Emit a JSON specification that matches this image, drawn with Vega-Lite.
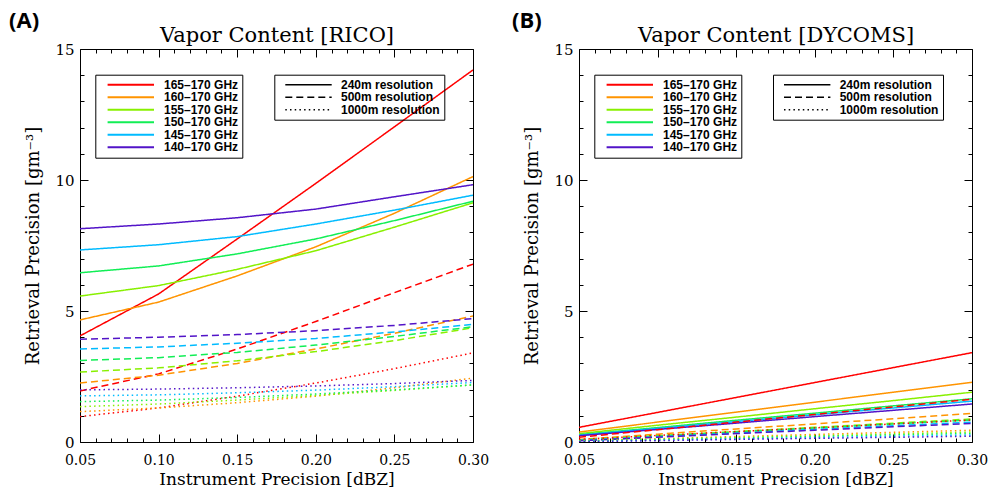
{
  "$schema": "https://vega.github.io/schema/vega-lite/v6.json",
  "background": "white",
  "padding": {"left": 8, "top": 9, "right": 0, "bottom": 0},
  "datasets": {
    "d": [
      {"p":"A","f":"165","r":"240","x":0.05,"y":4.05},{"p":"A","f":"165","r":"240","x":0.10,"y":5.65},{"p":"A","f":"165","r":"240","x":0.15,"y":7.75},{"p":"A","f":"165","r":"240","x":0.20,"y":9.87},{"p":"A","f":"165","r":"240","x":0.25,"y":12.03},{"p":"A","f":"165","r":"240","x":0.30,"y":14.2},
      {"p":"A","f":"160","r":"240","x":0.05,"y":4.66},{"p":"A","f":"160","r":"240","x":0.10,"y":5.34},{"p":"A","f":"160","r":"240","x":0.15,"y":6.34},{"p":"A","f":"160","r":"240","x":0.20,"y":7.45},{"p":"A","f":"160","r":"240","x":0.25,"y":8.73},{"p":"A","f":"160","r":"240","x":0.30,"y":10.13},
      {"p":"A","f":"155","r":"240","x":0.05,"y":5.57},{"p":"A","f":"155","r":"240","x":0.10,"y":5.97},{"p":"A","f":"155","r":"240","x":0.15,"y":6.59},{"p":"A","f":"155","r":"240","x":0.20,"y":7.3},{"p":"A","f":"155","r":"240","x":0.25,"y":8.2},{"p":"A","f":"155","r":"240","x":0.30,"y":9.13},
      {"p":"A","f":"150","r":"240","x":0.05,"y":6.46},{"p":"A","f":"150","r":"240","x":0.10,"y":6.72},{"p":"A","f":"150","r":"240","x":0.15,"y":7.18},{"p":"A","f":"150","r":"240","x":0.20,"y":7.75},{"p":"A","f":"150","r":"240","x":0.25,"y":8.45},{"p":"A","f":"150","r":"240","x":0.30,"y":9.19},
      {"p":"A","f":"145","r":"240","x":0.05,"y":7.33},{"p":"A","f":"145","r":"240","x":0.10,"y":7.53},{"p":"A","f":"145","r":"240","x":0.15,"y":7.84},{"p":"A","f":"145","r":"240","x":0.20,"y":8.32},{"p":"A","f":"145","r":"240","x":0.25,"y":8.85},{"p":"A","f":"145","r":"240","x":0.30,"y":9.42},
      {"p":"A","f":"140","r":"240","x":0.05,"y":8.14},{"p":"A","f":"140","r":"240","x":0.10,"y":8.32},{"p":"A","f":"140","r":"240","x":0.15,"y":8.56},{"p":"A","f":"140","r":"240","x":0.20,"y":8.89},{"p":"A","f":"140","r":"240","x":0.25,"y":9.36},{"p":"A","f":"140","r":"240","x":0.30,"y":9.82},
      {"p":"A","f":"165","r":"500","x":0.05,"y":1.95},{"p":"A","f":"165","r":"500","x":0.10,"y":2.6},{"p":"A","f":"165","r":"500","x":0.15,"y":3.55},{"p":"A","f":"165","r":"500","x":0.20,"y":4.6},{"p":"A","f":"165","r":"500","x":0.25,"y":5.7},{"p":"A","f":"165","r":"500","x":0.30,"y":6.79},
      {"p":"A","f":"160","r":"500","x":0.05,"y":2.25},{"p":"A","f":"160","r":"500","x":0.10,"y":2.55},{"p":"A","f":"160","r":"500","x":0.15,"y":3.0},{"p":"A","f":"160","r":"500","x":0.20,"y":3.55},{"p":"A","f":"160","r":"500","x":0.25,"y":4.15},{"p":"A","f":"160","r":"500","x":0.30,"y":4.81},
      {"p":"A","f":"155","r":"500","x":0.05,"y":2.67},{"p":"A","f":"155","r":"500","x":0.10,"y":2.83},{"p":"A","f":"155","r":"500","x":0.15,"y":3.1},{"p":"A","f":"155","r":"500","x":0.20,"y":3.45},{"p":"A","f":"155","r":"500","x":0.25,"y":3.87},{"p":"A","f":"155","r":"500","x":0.30,"y":4.36},
      {"p":"A","f":"150","r":"500","x":0.05,"y":3.11},{"p":"A","f":"150","r":"500","x":0.10,"y":3.22},{"p":"A","f":"150","r":"500","x":0.15,"y":3.42},{"p":"A","f":"150","r":"500","x":0.20,"y":3.7},{"p":"A","f":"150","r":"500","x":0.25,"y":4.03},{"p":"A","f":"150","r":"500","x":0.30,"y":4.4},
      {"p":"A","f":"145","r":"500","x":0.05,"y":3.55},{"p":"A","f":"145","r":"500","x":0.10,"y":3.63},{"p":"A","f":"145","r":"500","x":0.15,"y":3.77},{"p":"A","f":"145","r":"500","x":0.20,"y":3.95},{"p":"A","f":"145","r":"500","x":0.25,"y":4.2},{"p":"A","f":"145","r":"500","x":0.30,"y":4.49},
      {"p":"A","f":"140","r":"500","x":0.05,"y":3.92},{"p":"A","f":"140","r":"500","x":0.10,"y":4.0},{"p":"A","f":"140","r":"500","x":0.15,"y":4.1},{"p":"A","f":"140","r":"500","x":0.20,"y":4.25},{"p":"A","f":"140","r":"500","x":0.25,"y":4.45},{"p":"A","f":"140","r":"500","x":0.30,"y":4.71},
      {"p":"A","f":"165","r":"1000","x":0.05,"y":0.97},{"p":"A","f":"165","r":"1000","x":0.10,"y":1.3},{"p":"A","f":"165","r":"1000","x":0.15,"y":1.75},{"p":"A","f":"165","r":"1000","x":0.20,"y":2.25},{"p":"A","f":"165","r":"1000","x":0.25,"y":2.8},{"p":"A","f":"165","r":"1000","x":0.30,"y":3.4},
      {"p":"A","f":"160","r":"1000","x":0.05,"y":1.16},{"p":"A","f":"160","r":"1000","x":0.10,"y":1.3},{"p":"A","f":"160","r":"1000","x":0.15,"y":1.5},{"p":"A","f":"160","r":"1000","x":0.20,"y":1.75},{"p":"A","f":"160","r":"1000","x":0.25,"y":2.07},{"p":"A","f":"160","r":"1000","x":0.30,"y":2.44},
      {"p":"A","f":"155","r":"1000","x":0.05,"y":1.35},{"p":"A","f":"155","r":"1000","x":0.10,"y":1.45},{"p":"A","f":"155","r":"1000","x":0.15,"y":1.6},{"p":"A","f":"155","r":"1000","x":0.20,"y":1.78},{"p":"A","f":"155","r":"1000","x":0.25,"y":1.97},{"p":"A","f":"155","r":"1000","x":0.30,"y":2.18},
      {"p":"A","f":"150","r":"1000","x":0.05,"y":1.54},{"p":"A","f":"150","r":"1000","x":0.10,"y":1.6},{"p":"A","f":"150","r":"1000","x":0.15,"y":1.7},{"p":"A","f":"150","r":"1000","x":0.20,"y":1.83},{"p":"A","f":"150","r":"1000","x":0.25,"y":1.99},{"p":"A","f":"150","r":"1000","x":0.30,"y":2.18},
      {"p":"A","f":"145","r":"1000","x":0.05,"y":1.76},{"p":"A","f":"145","r":"1000","x":0.10,"y":1.8},{"p":"A","f":"145","r":"1000","x":0.15,"y":1.88},{"p":"A","f":"145","r":"1000","x":0.20,"y":1.98},{"p":"A","f":"145","r":"1000","x":0.25,"y":2.11},{"p":"A","f":"145","r":"1000","x":0.30,"y":2.27},
      {"p":"A","f":"140","r":"1000","x":0.05,"y":1.99},{"p":"A","f":"140","r":"1000","x":0.10,"y":2.02},{"p":"A","f":"140","r":"1000","x":0.15,"y":2.07},{"p":"A","f":"140","r":"1000","x":0.20,"y":2.14},{"p":"A","f":"140","r":"1000","x":0.25,"y":2.23},{"p":"A","f":"140","r":"1000","x":0.30,"y":2.35},
      {"p":"B","f":"165","r":"240","x":0.05,"y":0.56},{"p":"B","f":"165","r":"240","x":0.10,"y":1.13},{"p":"B","f":"165","r":"240","x":0.15,"y":1.7},{"p":"B","f":"165","r":"240","x":0.20,"y":2.27},{"p":"B","f":"165","r":"240","x":0.25,"y":2.84},{"p":"B","f":"165","r":"240","x":0.30,"y":3.41},
      {"p":"B","f":"160","r":"240","x":0.05,"y":0.38},{"p":"B","f":"160","r":"240","x":0.10,"y":0.76},{"p":"B","f":"160","r":"240","x":0.15,"y":1.14},{"p":"B","f":"160","r":"240","x":0.20,"y":1.52},{"p":"B","f":"160","r":"240","x":0.25,"y":1.9},{"p":"B","f":"160","r":"240","x":0.30,"y":2.28},
      {"p":"B","f":"155","r":"240","x":0.05,"y":0.32},{"p":"B","f":"155","r":"240","x":0.10,"y":0.64},{"p":"B","f":"155","r":"240","x":0.15,"y":0.95},{"p":"B","f":"155","r":"240","x":0.20,"y":1.27},{"p":"B","f":"155","r":"240","x":0.25,"y":1.58},{"p":"B","f":"155","r":"240","x":0.30,"y":1.9},
      {"p":"B","f":"150","r":"240","x":0.05,"y":0.28},{"p":"B","f":"150","r":"240","x":0.10,"y":0.55},{"p":"B","f":"150","r":"240","x":0.15,"y":0.83},{"p":"B","f":"150","r":"240","x":0.20,"y":1.1},{"p":"B","f":"150","r":"240","x":0.25,"y":1.38},{"p":"B","f":"150","r":"240","x":0.30,"y":1.65},
      {"p":"B","f":"145","r":"240","x":0.05,"y":0.26},{"p":"B","f":"145","r":"240","x":0.10,"y":0.52},{"p":"B","f":"145","r":"240","x":0.15,"y":0.78},{"p":"B","f":"145","r":"240","x":0.20,"y":1.04},{"p":"B","f":"145","r":"240","x":0.25,"y":1.3},{"p":"B","f":"145","r":"240","x":0.30,"y":1.56},
      {"p":"B","f":"140","r":"240","x":0.05,"y":0.24},{"p":"B","f":"140","r":"240","x":0.10,"y":0.48},{"p":"B","f":"140","r":"240","x":0.15,"y":0.72},{"p":"B","f":"140","r":"240","x":0.20,"y":0.97},{"p":"B","f":"140","r":"240","x":0.25,"y":1.21},{"p":"B","f":"140","r":"240","x":0.30,"y":1.45},
      {"p":"B","f":"165","r":"500","x":0.05,"y":0.18},{"p":"B","f":"165","r":"500","x":0.10,"y":0.47},{"p":"B","f":"165","r":"500","x":0.15,"y":0.76},{"p":"B","f":"165","r":"500","x":0.20,"y":1.05},{"p":"B","f":"165","r":"500","x":0.25,"y":1.34},{"p":"B","f":"165","r":"500","x":0.30,"y":1.63},
      {"p":"B","f":"160","r":"500","x":0.05,"y":0.1},{"p":"B","f":"160","r":"500","x":0.10,"y":0.3},{"p":"B","f":"160","r":"500","x":0.15,"y":0.5},{"p":"B","f":"160","r":"500","x":0.20,"y":0.69},{"p":"B","f":"160","r":"500","x":0.25,"y":0.89},{"p":"B","f":"160","r":"500","x":0.30,"y":1.09},
      {"p":"B","f":"155","r":"500","x":0.05,"y":0.08},{"p":"B","f":"155","r":"500","x":0.10,"y":0.24},{"p":"B","f":"155","r":"500","x":0.15,"y":0.4},{"p":"B","f":"155","r":"500","x":0.20,"y":0.56},{"p":"B","f":"155","r":"500","x":0.25,"y":0.72},{"p":"B","f":"155","r":"500","x":0.30,"y":0.88},
      {"p":"B","f":"150","r":"500","x":0.05,"y":0.07},{"p":"B","f":"150","r":"500","x":0.10,"y":0.22},{"p":"B","f":"150","r":"500","x":0.15,"y":0.38},{"p":"B","f":"150","r":"500","x":0.20,"y":0.53},{"p":"B","f":"150","r":"500","x":0.25,"y":0.69},{"p":"B","f":"150","r":"500","x":0.30,"y":0.84},
      {"p":"B","f":"145","r":"500","x":0.05,"y":0.06},{"p":"B","f":"145","r":"500","x":0.10,"y":0.2},{"p":"B","f":"145","r":"500","x":0.15,"y":0.34},{"p":"B","f":"145","r":"500","x":0.20,"y":0.48},{"p":"B","f":"145","r":"500","x":0.25,"y":0.62},{"p":"B","f":"145","r":"500","x":0.30,"y":0.76},
      {"p":"B","f":"140","r":"500","x":0.05,"y":0.05},{"p":"B","f":"140","r":"500","x":0.10,"y":0.18},{"p":"B","f":"140","r":"500","x":0.15,"y":0.32},{"p":"B","f":"140","r":"500","x":0.20,"y":0.45},{"p":"B","f":"140","r":"500","x":0.25,"y":0.58},{"p":"B","f":"140","r":"500","x":0.30,"y":0.71},
      {"p":"B","f":"165","r":"1000","x":0.05,"y":0.1},{"p":"B","f":"165","r":"1000","x":0.10,"y":0.25},{"p":"B","f":"165","r":"1000","x":0.15,"y":0.4},{"p":"B","f":"165","r":"1000","x":0.20,"y":0.54},{"p":"B","f":"165","r":"1000","x":0.25,"y":0.69},{"p":"B","f":"165","r":"1000","x":0.30,"y":0.84},
      {"p":"B","f":"160","r":"1000","x":0.05,"y":0.05},{"p":"B","f":"160","r":"1000","x":0.10,"y":0.13},{"p":"B","f":"160","r":"1000","x":0.15,"y":0.21},{"p":"B","f":"160","r":"1000","x":0.20,"y":0.29},{"p":"B","f":"160","r":"1000","x":0.25,"y":0.37},{"p":"B","f":"160","r":"1000","x":0.30,"y":0.45},
      {"p":"B","f":"155","r":"1000","x":0.05,"y":0.04},{"p":"B","f":"155","r":"1000","x":0.10,"y":0.11},{"p":"B","f":"155","r":"1000","x":0.15,"y":0.18},{"p":"B","f":"155","r":"1000","x":0.20,"y":0.24},{"p":"B","f":"155","r":"1000","x":0.25,"y":0.31},{"p":"B","f":"155","r":"1000","x":0.30,"y":0.38},
      {"p":"B","f":"150","r":"1000","x":0.05,"y":0.03},{"p":"B","f":"150","r":"1000","x":0.10,"y":0.09},{"p":"B","f":"150","r":"1000","x":0.15,"y":0.15},{"p":"B","f":"150","r":"1000","x":0.20,"y":0.21},{"p":"B","f":"150","r":"1000","x":0.25,"y":0.27},{"p":"B","f":"150","r":"1000","x":0.30,"y":0.33},
      {"p":"B","f":"145","r":"1000","x":0.05,"y":0.02},{"p":"B","f":"145","r":"1000","x":0.10,"y":0.07},{"p":"B","f":"145","r":"1000","x":0.15,"y":0.12},{"p":"B","f":"145","r":"1000","x":0.20,"y":0.17},{"p":"B","f":"145","r":"1000","x":0.25,"y":0.22},{"p":"B","f":"145","r":"1000","x":0.30,"y":0.27},
      {"p":"B","f":"140","r":"1000","x":0.05,"y":0.01},{"p":"B","f":"140","r":"1000","x":0.10,"y":0.05},{"p":"B","f":"140","r":"1000","x":0.15,"y":0.1},{"p":"B","f":"140","r":"1000","x":0.20,"y":0.14},{"p":"B","f":"140","r":"1000","x":0.25,"y":0.18},{"p":"B","f":"140","r":"1000","x":0.30,"y":0.22}
    ]
  },
  "spacing": 21,
  "hconcat": [
    {
      "width": 393, "height": 393,
      "data": {"name": "d"},
      "transform": [{"filter": "datum.p == 'A'"}],
      "title": {"text": "(A)", "anchor": "start", "frame": "group", "dx": -71, "offset": -8, "font": "Open Sans", "fontWeight": "bold", "fontSize": 22, "color": "black"},
      "layer": [
        {
          "mark": {"type": "line", "strokeWidth": 1.5, "clip": true},
          "encoding": {
            "x": {"field": "x", "type": "quantitative", "scale": {"domain": [0.05, 0.3], "nice": false, "zero": false},
              "axis": {"orient": "bottom", "offset": -8, "tickSize": 8, "values": [0.05,0.10,0.15,0.20,0.25,0.30], "format": ".2f",
                "labelPadding": 11, "labelFontSize": 14, "title": "Instrument Precision [dBZ]", "titleFontSize": 17, "titlePadding": 4}},
            "y": {"field": "y", "type": "quantitative", "scale": {"domain": [0, 15], "nice": false, "zero": false},
              "axis": {"orient": "left", "offset": -8, "tickSize": 8, "values": [0,5,10,15],
                "labelPadding": 6, "title": "Retrieval Precision [gm⁻³]", "titlePadding": 12}},
            "color": {"field": "f", "type": "nominal",
              "scale": {"domain": ["165","160","155","150","145","140"], "range": ["#ff0000","#ff9400","#88f000","#11ee55","#00bbff","#5214c8"]},
              "legend": {"orient": "none", "legendX": 15.3, "legendY": 25.7, "title": null, "labelExpr": "datum.label + '–170 GHz'",
                "symbolType": "M-4.64,0H4.64", "symbolSize": 100, "symbolStrokeWidth": 2, "symbolOffset": 25.5, "labelOffset": 27.2}},
            "strokeDash": {"field": "r", "type": "nominal",
              "scale": {"domain": ["240","500","1000"], "range": [[1,0],[7,4],[1.5,3.2]]},
              "legend": {"orient": "none", "legendX": 194.3, "legendY": 25.7, "title": null, "labelExpr": "datum.label + 'm resolution'",
                "symbolType": "M-4.64,0H4.64", "symbolSize": 100, "symbolStrokeWidth": 1.5, "symbolStrokeColor": "black", "symbolOffset": 24.2, "labelOffset": 26.5}},
            "order": {"field": "x"}
          }
        },
        {
          "mark": {"type": "point", "opacity": 0},
          "encoding": {
            "x": {"field": "x", "type": "quantitative",
              "axis": {"orient": "top", "offset": -8, "tickSize": 8, "labels": false, "values": [0.05,0.10,0.15,0.20,0.25,0.30],
                "title": "Vapor Content [RICO]", "titleFontSize": 21, "titlePadding": 3}},
            "y": {"field": "y", "type": "quantitative",
              "axis": {"orient": "right", "offset": -8, "tickSize": 8, "labels": false, "values": [0,5,10,15], "title": null}}
          }
        },
        {
          "mark": {"type": "point", "opacity": 0},
          "encoding": {
            "x": {"field": "x", "type": "quantitative",
              "axis": {"orient": "bottom", "offset": -4, "tickSize": 4, "labels": false, "values": [0.06,0.07,0.08,0.09,0.11,0.12,0.13,0.14,0.16,0.17,0.18,0.19,0.21,0.22,0.23,0.24,0.26,0.27,0.28,0.29], "title": null}},
            "y": {"field": "y", "type": "quantitative",
              "axis": {"orient": "left", "offset": -4, "tickSize": 4, "labels": false, "values": [1,2,3,4,6,7,8,9,11,12,13,14], "title": null}}
          }
        },
        {
          "mark": {"type": "point", "opacity": 0},
          "encoding": {
            "x": {"field": "x", "type": "quantitative",
              "axis": {"orient": "top", "offset": -4, "tickSize": 4, "labels": false, "values": [0.06,0.07,0.08,0.09,0.11,0.12,0.13,0.14,0.16,0.17,0.18,0.19,0.21,0.22,0.23,0.24,0.26,0.27,0.28,0.29], "title": null}},
            "y": {"field": "y", "type": "quantitative",
              "axis": {"orient": "right", "offset": -4, "tickSize": 4, "labels": false, "values": [1,2,3,4,6,7,8,9,11,12,13,14], "title": null}}
          }
        }
      ],
      "resolve": {"axis": {"x": "independent", "y": "independent"}}
    },
    {
      "width": 393, "height": 393,
      "data": {"name": "d"},
      "transform": [{"filter": "datum.p == 'B'"}],
      "title": {"text": "(B)", "anchor": "start", "frame": "group", "dx": -67, "offset": -8, "font": "Open Sans", "fontWeight": "bold", "fontSize": 22, "color": "black"},
      "layer": [
        {
          "mark": {"type": "line", "strokeWidth": 1.5, "clip": true},
          "encoding": {
            "x": {"field": "x", "type": "quantitative", "scale": {"domain": [0.05, 0.3], "nice": false, "zero": false},
              "axis": {"orient": "bottom", "offset": -8, "tickSize": 8, "values": [0.05,0.10,0.15,0.20,0.25,0.30], "format": ".2f",
                "labelPadding": 11, "labelFontSize": 14, "title": "Instrument Precision [dBZ]", "titleFontSize": 17, "titlePadding": 4}},
            "y": {"field": "y", "type": "quantitative", "scale": {"domain": [0, 15], "nice": false, "zero": false},
              "axis": {"orient": "left", "offset": -8, "tickSize": 8, "values": [0,5,10,15],
                "labelPadding": 6, "title": "Retrieval Precision [gm⁻³]", "titlePadding": 12}},
            "color": {"field": "f", "type": "nominal",
              "scale": {"domain": ["165","160","155","150","145","140"], "range": ["#ff0000","#ff9400","#88f000","#11ee55","#00bbff","#5214c8"]},
              "legend": {"orient": "none", "legendX": 15.3, "legendY": 25.7, "title": null, "labelExpr": "datum.label + '–170 GHz'",
                "symbolType": "M-4.64,0H4.64", "symbolSize": 100, "symbolStrokeWidth": 2, "symbolOffset": 25.5, "labelOffset": 27.2}},
            "strokeDash": {"field": "r", "type": "nominal",
              "scale": {"domain": ["240","500","1000"], "range": [[1,0],[7,4],[1.5,3.2]]},
              "legend": {"orient": "none", "legendX": 194, "legendY": 25.7, "title": null, "labelExpr": "datum.label + 'm resolution'",
                "symbolType": "M-4.64,0H4.64", "symbolSize": 100, "symbolStrokeWidth": 1.5, "symbolStrokeColor": "black", "symbolOffset": 24.2, "labelOffset": 26.5}},
            "order": {"field": "x"}
          }
        },
        {
          "mark": {"type": "point", "opacity": 0},
          "encoding": {
            "x": {"field": "x", "type": "quantitative",
              "axis": {"orient": "top", "offset": -8, "tickSize": 8, "labels": false, "values": [0.05,0.10,0.15,0.20,0.25,0.30],
                "title": "Vapor Content [DYCOMS]", "titleFontSize": 21, "titlePadding": 3}},
            "y": {"field": "y", "type": "quantitative",
              "axis": {"orient": "right", "offset": -8, "tickSize": 8, "labels": false, "values": [0,5,10,15], "title": null}}
          }
        },
        {
          "mark": {"type": "point", "opacity": 0},
          "encoding": {
            "x": {"field": "x", "type": "quantitative",
              "axis": {"orient": "bottom", "offset": -4, "tickSize": 4, "labels": false, "values": [0.06,0.07,0.08,0.09,0.11,0.12,0.13,0.14,0.16,0.17,0.18,0.19,0.21,0.22,0.23,0.24,0.26,0.27,0.28,0.29], "title": null}},
            "y": {"field": "y", "type": "quantitative",
              "axis": {"orient": "left", "offset": -4, "tickSize": 4, "labels": false, "values": [1,2,3,4,6,7,8,9,11,12,13,14], "title": null}}
          }
        },
        {
          "mark": {"type": "point", "opacity": 0},
          "encoding": {
            "x": {"field": "x", "type": "quantitative",
              "axis": {"orient": "top", "offset": -4, "tickSize": 4, "labels": false, "values": [0.06,0.07,0.08,0.09,0.11,0.12,0.13,0.14,0.16,0.17,0.18,0.19,0.21,0.22,0.23,0.24,0.26,0.27,0.28,0.29], "title": null}},
            "y": {"field": "y", "type": "quantitative",
              "axis": {"orient": "right", "offset": -4, "tickSize": 4, "labels": false, "values": [1,2,3,4,6,7,8,9,11,12,13,14], "title": null}}
          }
        }
      ],
      "resolve": {"axis": {"x": "independent", "y": "independent"}}
    }
  ],
  "resolve": {"scale": {"color": "independent", "strokeDash": "independent", "x": "independent", "y": "independent"}, "legend": {"color": "independent", "strokeDash": "independent"}},
  "config": {
    "view": {"stroke": "black", "strokeWidth": 1},
    "axis": {"domain": false, "zindex": 1, "ticks": true, "tickColor": "black", "tickWidth": 1, "tickOpacity": 1, "labelColor": "black", "titleColor": "black", "grid": false,
      "labelFont": "DejaVu Serif", "labelFontSize": 15, "titleFont": "DejaVu Serif", "titleFontSize": 18, "titleFontWeight": "normal",
      "labelOverlap": false, "labelFlush": false, "labelBound": false},
    "legend": {"padding": 4, "rowPadding": 0.5, "strokeColor": "black", "labelFont": "Liberation Sans", "labelFontWeight": "bold", "labelFontSize": 12, "labelColor": "black", "labelLimit": 0}
  }
}
